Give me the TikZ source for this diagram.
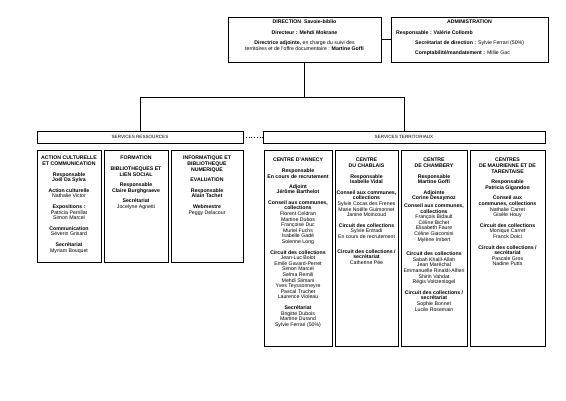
\documentclass[tikz,border=0pt]{standalone}
\usepackage{fontspec}
\setmainfont{Liberation Sans}
\newcommand\smallfnt{\fontsize{5.2}{5.6}\selectfont}
\tikzset{
  box/.style={draw, line width=0.6pt, inner sep=0pt},
  txt/.style={anchor=north, inner sep=0pt, align=center, font=\smallfnt},
  ltxt/.style={anchor=north west, inner sep=0pt, align=left, font=\smallfnt},
  conn/.style={line width=0.8pt},
}
\begin{document}
\begin{tikzpicture}[x=1pt,y=-1pt]
\useasboundingbox[fill=white] (0,0) rectangle (566,400);
% top boxes
\node[box, minimum width=153pt, minimum height=45pt] (dir) at (304.5,39.5) {};
\node[box, minimum width=157pt, minimum height=45pt] (adm) at (469.5,39.5) {};
\node[txt] (dirt) at (304.5,20) {\textbf{DIRECTION \ Savoie-biblio}\\[5pt]
  \textbf{Directeur : Mehdi Mokrane}\\[4.5pt]
  \textbf{Directrice adjointe,} en charge du suivi des\\
  territoires et de l'offre documentaire : \textbf{Martine Goffi}};
\node[txt] (admt) at (469.5,20) {\textbf{ADMINISTRATION}};
\node[ltxt] (adm1) at (396,30) {\textbf{Responsable : Valérie Collomb}};
\node[ltxt] (adm2) at (415,40) {\textbf{Secrétariat de direction :} Sylvie Ferrari (50\%)};
\node[ltxt] (adm3) at (415,50) {\textbf{Comptabilité/mandatement :} Millie Gac};
% services headers
\node[box, minimum width=206pt, minimum height=12pt, font=\fontsize{4.6}{5}\selectfont] (sr) at (140,137) {SERVICES RESSOURCES};
\node[box, minimum width=282pt, minimum height=12pt, font=\fontsize{4.6}{5}\selectfont] (st) at (404,137) {SERVICES TERRITORIAUX};
\coordinate (jl) at (140,97);
\coordinate (jm) at (304.5,97);
\coordinate (jr) at (404,97);
\draw[conn] (dir.east) -- (adm.west);
\draw[conn] (dir.south) -- (jm);
\draw[conn] (sr.north) -- (jl) -- (jr) -- (st.north);
\draw[line width=0.7pt, dotted] (sr.east) -- (st.west);
% left columns
\node[box, minimum width=64pt, minimum height=112pt] (cA) at (69,206) {};
\node[box, minimum width=64pt, minimum height=112pt] (cF) at (136,206) {};
\node[box, minimum width=72pt, minimum height=112pt] (cI) at (207,206) {};
\node[txt] at (69,156) {\textbf{ACTION CULTURELLE}\\\textbf{ET COMMUNICATION}\\[5pt]
  \textbf{Responsable}\\\textbf{Joël Da Sylva}\\[5pt]
  \textbf{Action culturelle}\\Nathalie Victor\\[5pt]
  \textbf{Expositions :}\\Patricia Perrillat\\Simon Marcel\\[5pt]
  \textbf{Communication}\\Séverin Grisard\\[5pt]
  \textbf{Secrétariat}\\Myriam Bouquet};
\node[txt] at (136,156) {\textbf{FORMATION}\\[5pt]
  \textbf{BIBLIOTHEQUES ET}\\\textbf{LIEN SOCIAL}\\[5pt]
  \textbf{Responsable}\\\textbf{Claire Burghgraeve}\\[5pt]
  \textbf{Secrétariat}\\Jocelyne Agnetti};
\node[txt] at (207,156) {\textbf{INFORMATIQUE ET}\\\textbf{BIBLIOTHEQUE}\\\textbf{NUMERIQUE}\\[5pt]
  \textbf{EVALUATION}\\[5pt]
  \textbf{Responsable}\\\textbf{Alain Tachet}\\[5pt]
  \textbf{Webmestre}\\Peggy Delacour};
% right columns
\node[box, minimum width=68pt, minimum height=196pt] (cAn) at (298,248) {};
\node[box, minimum width=63pt, minimum height=196pt] (cCh) at (366.5,248) {};
\node[box, minimum width=66pt, minimum height=196pt] (cCy) at (434,248) {};
\node[box, minimum width=75pt, minimum height=196pt] (cM) at (507.5,248) {};
\node[txt] at (298,158) {\textbf{CENTRE D'ANNECY}\\[5pt]
  \textbf{Responsable}\\\textbf{En cours de recrutement}\\[4.5pt]
  \textbf{Adjoint}\\\textbf{Jérôme Barthelot}\\[5pt]
  \textbf{Conseil aux communes,}\\\textbf{collections}\\
  Florent Celdran\\Martine Dubos\\Françoise Duc\\Muriel Fuchs\\Isabelle Gadé\\Solenne Long\\[5pt]
  \textbf{Circuit des collections}\\Jean-Luc Bolot\\Emile Gavard-Perret\\Simon Marcel\\Selma Remili\\Mehdi Slimani\\Yves Teyssonneyre\\Pascal Truchet\\Laurence Violeau\\[5pt]
  \textbf{Secrétariat}\\Brigitte Dubois\\Martine Durand\\Sylvie Ferrari (50\%)};
\node[txt] at (366.5,158) {\textbf{CENTRE}\\\textbf{DU CHABLAIS}\\[5pt]
  \textbf{Responsable}\\\textbf{Isabelle Vidal}\\[5pt]
  \textbf{Conseil aux communes,}\\\textbf{collections}\\
  Sylvie Cocas des Frenes\\Marie Noëlle Guimonnet\\Janine Moincoud\\[5pt]
  \textbf{Circuit des collections}\\Sylvie Entradi\\En cours de recrutement\\[9pt]
  \textbf{Circuit des collections /}\\\textbf{secrétariat}\\Catherine Pée};
\node[txt] at (434,158) {\textbf{CENTRE}\\\textbf{DE CHAMBERY}\\[5pt]
  \textbf{Responsable}\\\textbf{Martine Goffi}\\[5pt]
  \textbf{Adjointe}\\\textbf{Corine Desaymoz}\\[2pt]
  \textbf{Conseil aux communes,}\\\textbf{collections}\\
  François Bidault\\Céline Bichet\\Elisabeth Faure\\Céline Giacomini\\Mylène Imbert\\[9pt]
  \textbf{Circuit des collections}\\Sabah Khalil-Allah\\Jean Maréchal\\Emmanuelle Rinaldi-Alfieri\\Shirin Vahdat\\Régis Voltzenlogel\\[5pt]
  \textbf{Circuit des collections /}\\\textbf{secrétariat}\\Sophie Bonnet\\Lucile Rosemain};
\node[txt] at (507.5,158) {\textbf{CENTRES}\\\textbf{DE MAURIENNE ET DE}\\\textbf{TARENTAISE}\\[5pt]
  \textbf{Responsable}\\\textbf{Patricia Gigandon}\\[5pt]
  \textbf{Conseil aux}\\\textbf{communes, collections}\\Nathalie Carret\\Gisèle Houy\\[5pt]
  \textbf{Circuit des collections}\\Monique Carret\\Franck Dolci\\[5pt]
  \textbf{Circuit des collections /}\\\textbf{secrétariat}\\Pascale Gros\\Nadine Putts};
\end{tikzpicture}
\end{document}
